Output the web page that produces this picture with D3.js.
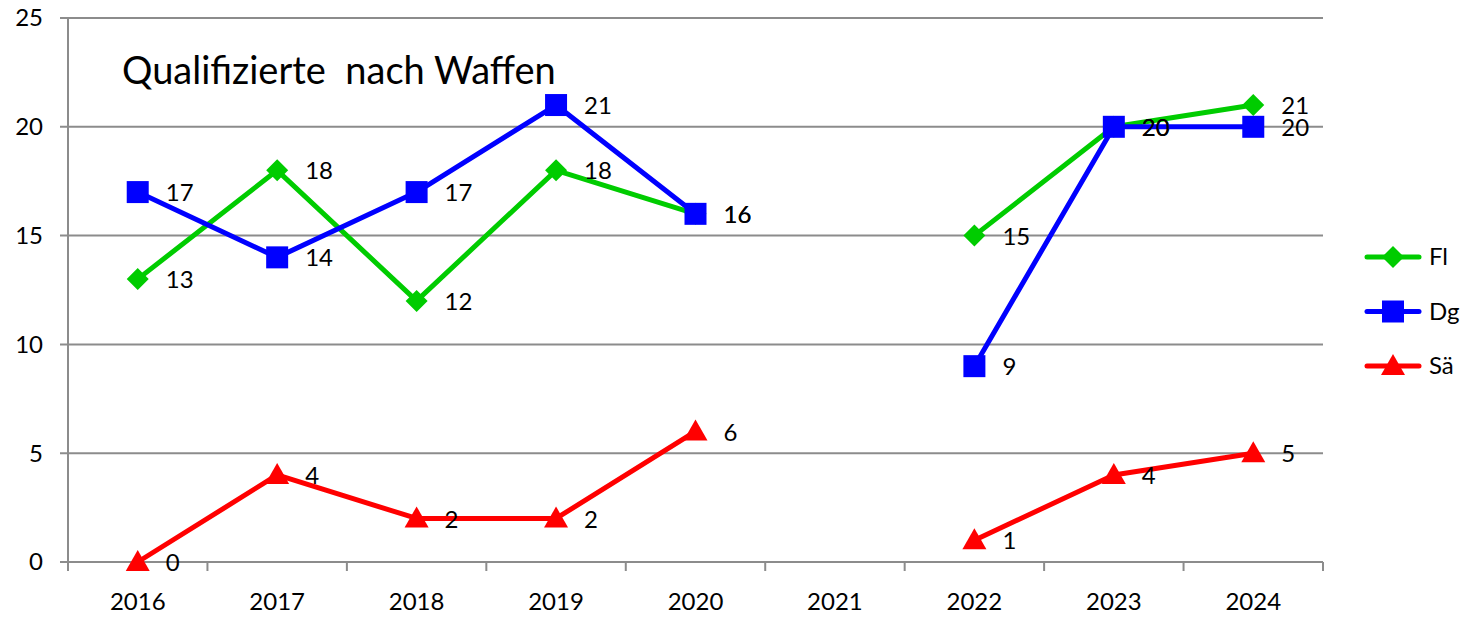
<!DOCTYPE html>
<html>
<head>
<meta charset="utf-8">
<script src="https://cdn.jsdelivr.net/npm/d3@7"></script>
<style>
  body { margin: 0; background: #fff; }
  svg text { font-family: Lato, "Open Sans", sans-serif; fill: #000; }
</style>
</head>
<body>
<svg id="chart" width="1472" height="620"></svg>
<script>
var years = ['2016', '2017', '2018', '2019', '2020', '2021', '2022', '2023', '2024'];
var fl = [13, 18, 12, 18, 16, null, 15, 20, 21];
var dg = [17, 14, 17, 21, 16, null, 9, 20, 20];
var sa = [0, 4, 2, 2, 6, null, 1, 4, 5];
var yTicks = [0, 5, 10, 15, 20, 25];

var series = [
  {name: 'Fl', values: fl, color: '#00cc00', marker: 'diamond'},
  {name: 'Dg', values: dg, color: '#0000ff', marker: 'square'},
  {name: 'Sä', values: sa, color: '#ff0000', marker: 'triangle'}
];

var svg = d3.select('#chart');
var plotL = 68, plotR = 1323, plotT = 18, plotB = 562;

var x = d3.scaleBand().domain(years).range([plotL, plotR]);
var y = d3.scaleLinear().domain([0, 25]).range([plotB, plotT]);

// gridlines
svg.append('g')
  .selectAll('line')
  .data(yTicks)
  .enter()
  .append('line')
  .attr('x1', plotL - 8)
  .attr('x2', plotR)
  .attr('y1', function(d) { return y(d); })
  .attr('y2', function(d) { return y(d); })
  .attr('stroke', '#8c8c8c')
  .attr('stroke-width', 2);

// y axis line
svg.append('line')
  .attr('x1', plotL).attr('x2', plotL)
  .attr('y1', plotT).attr('y2', plotB)
  .attr('stroke', '#8c8c8c').attr('stroke-width', 2);

// x ticks at band edges
var edges = years.map(function(d) { return x(d); }).concat([plotR]);
svg.append('g')
  .selectAll('line')
  .data(edges)
  .enter()
  .append('line')
  .attr('x1', function(d) { return d; })
  .attr('x2', function(d) { return d; })
  .attr('y1', plotB)
  .attr('y2', plotB + 9)
  .attr('stroke', '#8c8c8c').attr('stroke-width', 2);

// y tick labels
svg.append('g')
  .selectAll('text')
  .data(yTicks)
  .enter()
  .append('text')
  .attr('x', 43)
  .attr('y', function(d) { return y(d); })
  .attr('dy', '0.35em')
  .attr('text-anchor', 'end')
  .style('font-size', '24px')
  .text(function(d) { return d; });

// x labels
svg.append('g')
  .selectAll('text')
  .data(years)
  .enter()
  .append('text')
  .attr('x', function(d) { return x(d) + x.bandwidth() / 2; })
  .attr('y', 610)
  .attr('text-anchor', 'middle')
  .style('font-size', '24px')
  .text(function(d) { return d; });

// title
svg.append('text')
  .attr('x', 122).attr('y', 84)
  .style('font-size', '38px')
  .style('white-space', 'pre')
  .attr('xml:space', 'preserve')
  .text('Qualifizierte  nach Waffen');

function markerPath(type) {
  if (type === 'square') return 'M-11,-11H11V11H-11Z';
  if (type === 'diamond') return 'M0,-11L11,0L0,11L-11,0Z';
  return 'M0,-12L12,9H-12Z';
}

var cx = function(i) { return x(years[i]) + x.bandwidth() / 2; };
var line = d3.line()
  .defined(function(d) { return d != null; })
  .x(function(d, i) { return cx(i); })
  .y(function(d) { return y(d); });

series.forEach(function(s) {
  var g = svg.append('g');
  g.append('path')
    .datum(s.values)
    .attr('d', line)
    .attr('fill', 'none')
    .attr('stroke', s.color)
    .attr('stroke-width', 5)
    .attr('stroke-linejoin', 'round');

  var pts = s.values.map(function(v, i) { return {v: v, i: i}; })
    .filter(function(d) { return d.v != null; });

  g.selectAll('path.m')
    .data(pts)
    .enter()
    .append('path')
    .attr('class', 'm')
    .attr('d', markerPath(s.marker))
    .attr('transform', function(d) { return 'translate(' + cx(d.i) + ',' + y(d.v) + ')'; })
    .attr('fill', s.color);

  g.selectAll('text')
    .data(pts)
    .enter()
    .append('text')
    .attr('x', function(d) { return cx(d.i) + 28; })
    .attr('y', function(d) { return y(d.v); })
    .attr('dy', '0.38em')
    .style('font-size', '24px')
    .text(function(d) { return d.v; });
});

// legend
var legend = svg.append('g')
  .selectAll('g')
  .data(series)
  .enter()
  .append('g')
  .attr('transform', function(d, i) { return 'translate(1367,' + (257 + i * 54.5) + ')'; });

legend.append('line')
  .attr('x1', 0).attr('x2', 52)
  .attr('stroke', function(d) { return d.color; })
  .attr('stroke-width', 5)
  .attr('stroke-linecap', 'round');

legend.append('path')
  .attr('d', function(d) { return markerPath(d.marker); })
  .attr('transform', 'translate(26,0)')
  .attr('fill', function(d) { return d.color; });

legend.append('text')
  .attr('x', 62)
  .attr('dy', '0.35em')
  .style('font-size', '24px')
  .text(function(d) { return d.name; });
</script>
</body>
</html>
